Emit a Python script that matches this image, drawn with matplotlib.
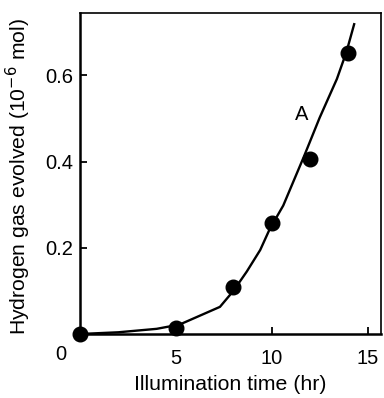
import matplotlib
matplotlib.use("Agg")
import matplotlib.pyplot as plt

plt.rcParams['font.family'] = ['Liberation Sans', 'DejaVu Sans']

# measured points
pt_time = [0, 5, 8, 10, 12, 14]
pt_h2 = [0.0, 0.014, 0.109, 0.258, 0.405, 0.653]

# fitted curve
curve_time = [0, 2, 4, 5.2, 7.3, 8.0, 8.7, 9.4, 9.9, 10.6, 11.7, 12.5, 13.4, 13.9, 14.3]
curve_h2 = [0.0, 0.004, 0.012, 0.022, 0.063, 0.1, 0.145, 0.195, 0.244, 0.298,
            0.414, 0.502, 0.592, 0.655, 0.719]

fig = plt.figure(figsize=(3.84, 3.98), dpi=100)
ax = fig.add_axes([80 / 384, 1 - 334 / 398, 301 / 384, 321 / 398])

ax.plot(curve_time, curve_h2, color='black', lw=1.7, zorder=2,
        solid_joinstyle='round')
ax.plot(pt_time, pt_h2, 'o', color='black', ms=10.5, zorder=3, clip_on=False)
ax.text(11.55, 0.51, 'A', fontsize=14.5, ha='center', va='center')

ax.set_xlim(0, 15.7)
ax.set_ylim(0, 0.745)
ax.set_xticks([5, 10, 15])
ax.set_yticks([0.2, 0.4, 0.6])
ax.set_yticklabels(['0.2', '0.4', '0.6'])
ax.tick_params(direction='in', length=5, width=1.3, labelsize=14.5)
ax.tick_params(axis='x', pad=11)
ax.tick_params(axis='y', pad=5)
ax.text(-0.065, -0.063, '0', transform=ax.transAxes, fontsize=14.5,
        ha='center', va='center')

for side in ['left', 'bottom']:
    ax.spines[side].set_linewidth(1.8)
for side in ['top', 'right']:
    ax.spines[side].set_linewidth(1.2)

ax.set_xlabel('Illumination time (hr)', fontsize=15.3, labelpad=5)
ax.set_ylabel('Hydrogen gas evolved (10$^{-6}$ mol)', fontsize=15.2)
ax.yaxis.set_label_coords(-0.155, 0.49)

fig.savefig('out.png', dpi=100)
